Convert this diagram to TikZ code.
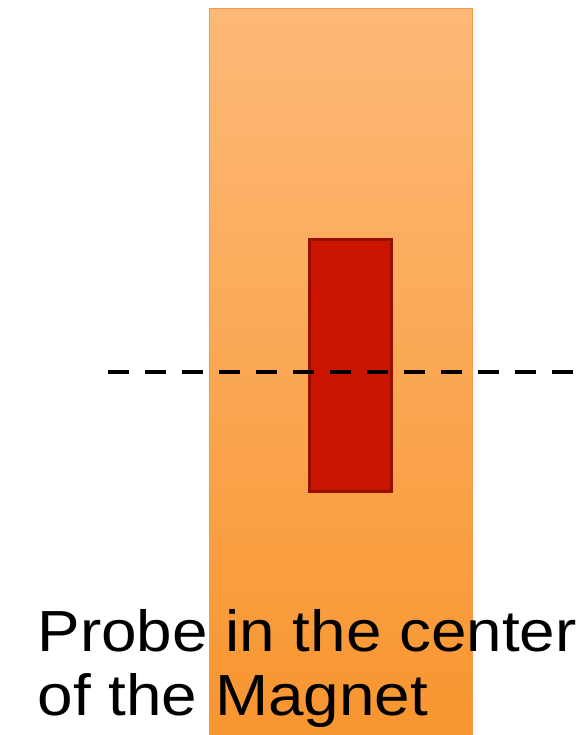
\documentclass[tikz,border=0pt]{standalone}
\usepackage{fontspec}
\setmainfont{Liberation Sans}
\usepackage{xcolor}
\usepackage{tikz}
\usetikzlibrary{positioning}
\definecolor{magtop}{HTML}{FDB977}
\definecolor{magbot}{HTML}{F8952E}
\definecolor{magline}{HTML}{F39A48}
\definecolor{probefill}{HTML}{CB1400}
\definecolor{probeline}{HTML}{961000}
\tikzset{
  magnetbox/.style={draw=magline,line width=1pt,top color=magtop,bottom color=magbot,inner sep=0pt},
  probebox/.style={draw=probeline,fill=probefill,line width=3pt,inner sep=0pt},
  midline/.style={line width=4.5pt,draw=black,dash pattern=on 21pt off 16pt},
  caption/.style={font=\fontsize{58}{64}\selectfont,align=left,inner sep=0pt,xscale=1.1,transform shape}
}
\begin{document}
\begin{tikzpicture}[x=1pt,y=1pt]
  \useasboundingbox (0,0) rectangle (577,735);
  % magnet and probe
  \node[magnetbox,minimum width=263pt,minimum height=737pt,anchor=north west] (magnet) at (209,727) {};
  \node[probebox,minimum width=82pt,minimum height=252pt,anchor=north west] (probe) at (307.5,496.5) {};
  % centre line
  \coordinate (lineL) at (108,363);
  \coordinate (lineR) at (580,363);
  \draw[midline] (lineL) -- (lineR);
  % label
  \node[caption,anchor=base west] (label) at (37.5,19) {Probe in the center\\of the Magnet};
\end{tikzpicture}
\end{document}
